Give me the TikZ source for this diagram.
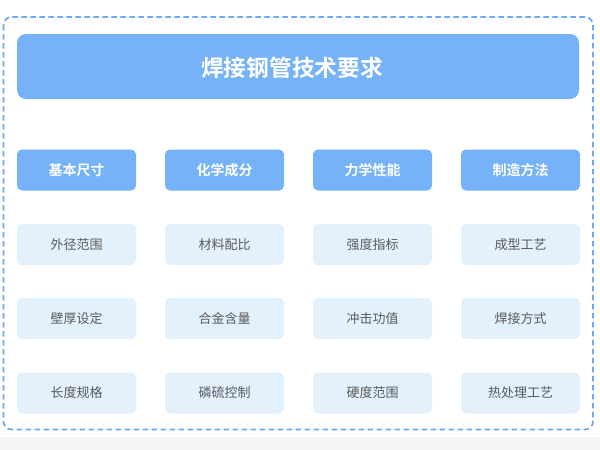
\documentclass[tikz,border=0pt]{standalone}
\usepackage{fontspec}
\setmainfont{Noto Sans CJK SC}
\newfontfamily\cjkb{Noto Sans CJK SC Bold}
\begin{document}
\begin{tikzpicture}[x=1pt,y=-1pt,
  hdr/.style={fill=hblue,draw=none,rounded corners=5pt,minimum width=119pt,minimum height=41pt,inner sep=0pt,text=white,font=\cjkb\fontsize{14}{17}\selectfont},
  itm/.style={fill=lblue,draw=none,rounded corners=5pt,minimum width=119pt,minimum height=41pt,inner sep=0pt,text=tgray,font=\fontsize{13}{16}\selectfont}]
\definecolor{hblue}{HTML}{76B2F7}
\definecolor{lblue}{HTML}{E3F1FD}
\definecolor{dblue}{HTML}{6AAAF5}
\definecolor{tgray}{HTML}{5A5A5A}
\definecolor{strip}{HTML}{F5F5F5}
\useasboundingbox (0,0) rectangle (600,450);
\fill[white] (0,0) rectangle (600,450);
\fill[strip] (0,437) rectangle (600,450);
\draw[dblue,line width=1.8pt,dash pattern=on 5.5pt off 3.5pt,rounded corners=8pt] (3.5,17) rectangle (593,429.5);
\node[fill=hblue,rounded corners=9pt,minimum width=562pt,minimum height=65pt,inner sep=0pt] (title) at (298,66.5) {};
\node[text=white,inner sep=0pt,font=\cjkb\fontsize{22.7}{27}\selectfont] (ttext) at (292,67.5) {焊接钢管技术要求};
\node[hdr] (h1) at (76.5,170) {基本尺寸};
\node[hdr] (h2) at (224.5,170) {化学成分};
\node[hdr] (h3) at (372.5,170) {力学性能};
\node[hdr] (h4) at (520.5,170) {制造方法};
\node[itm] (a1) at (76.5,244.5) {外径范围};
\node[itm] (a2) at (224.5,244.5) {材料配比};
\node[itm] (a3) at (372.5,244.5) {强度指标};
\node[itm] (a4) at (520.5,244.5) {成型工艺};
\node[itm] (b1) at (76.5,318.5) {壁厚设定};
\node[itm] (b2) at (224.5,318.5) {合金含量};
\node[itm] (b3) at (372.5,318.5) {冲击功值};
\node[itm] (b4) at (520.5,318.5) {焊接方式};
\node[itm] (c1) at (76.5,393) {长度规格};
\node[itm] (c2) at (224.5,393) {磷硫控制};
\node[itm] (c3) at (372.5,393) {硬度范围};
\node[itm] (c4) at (520.5,393) {热处理工艺};
\end{tikzpicture}
\end{document}
